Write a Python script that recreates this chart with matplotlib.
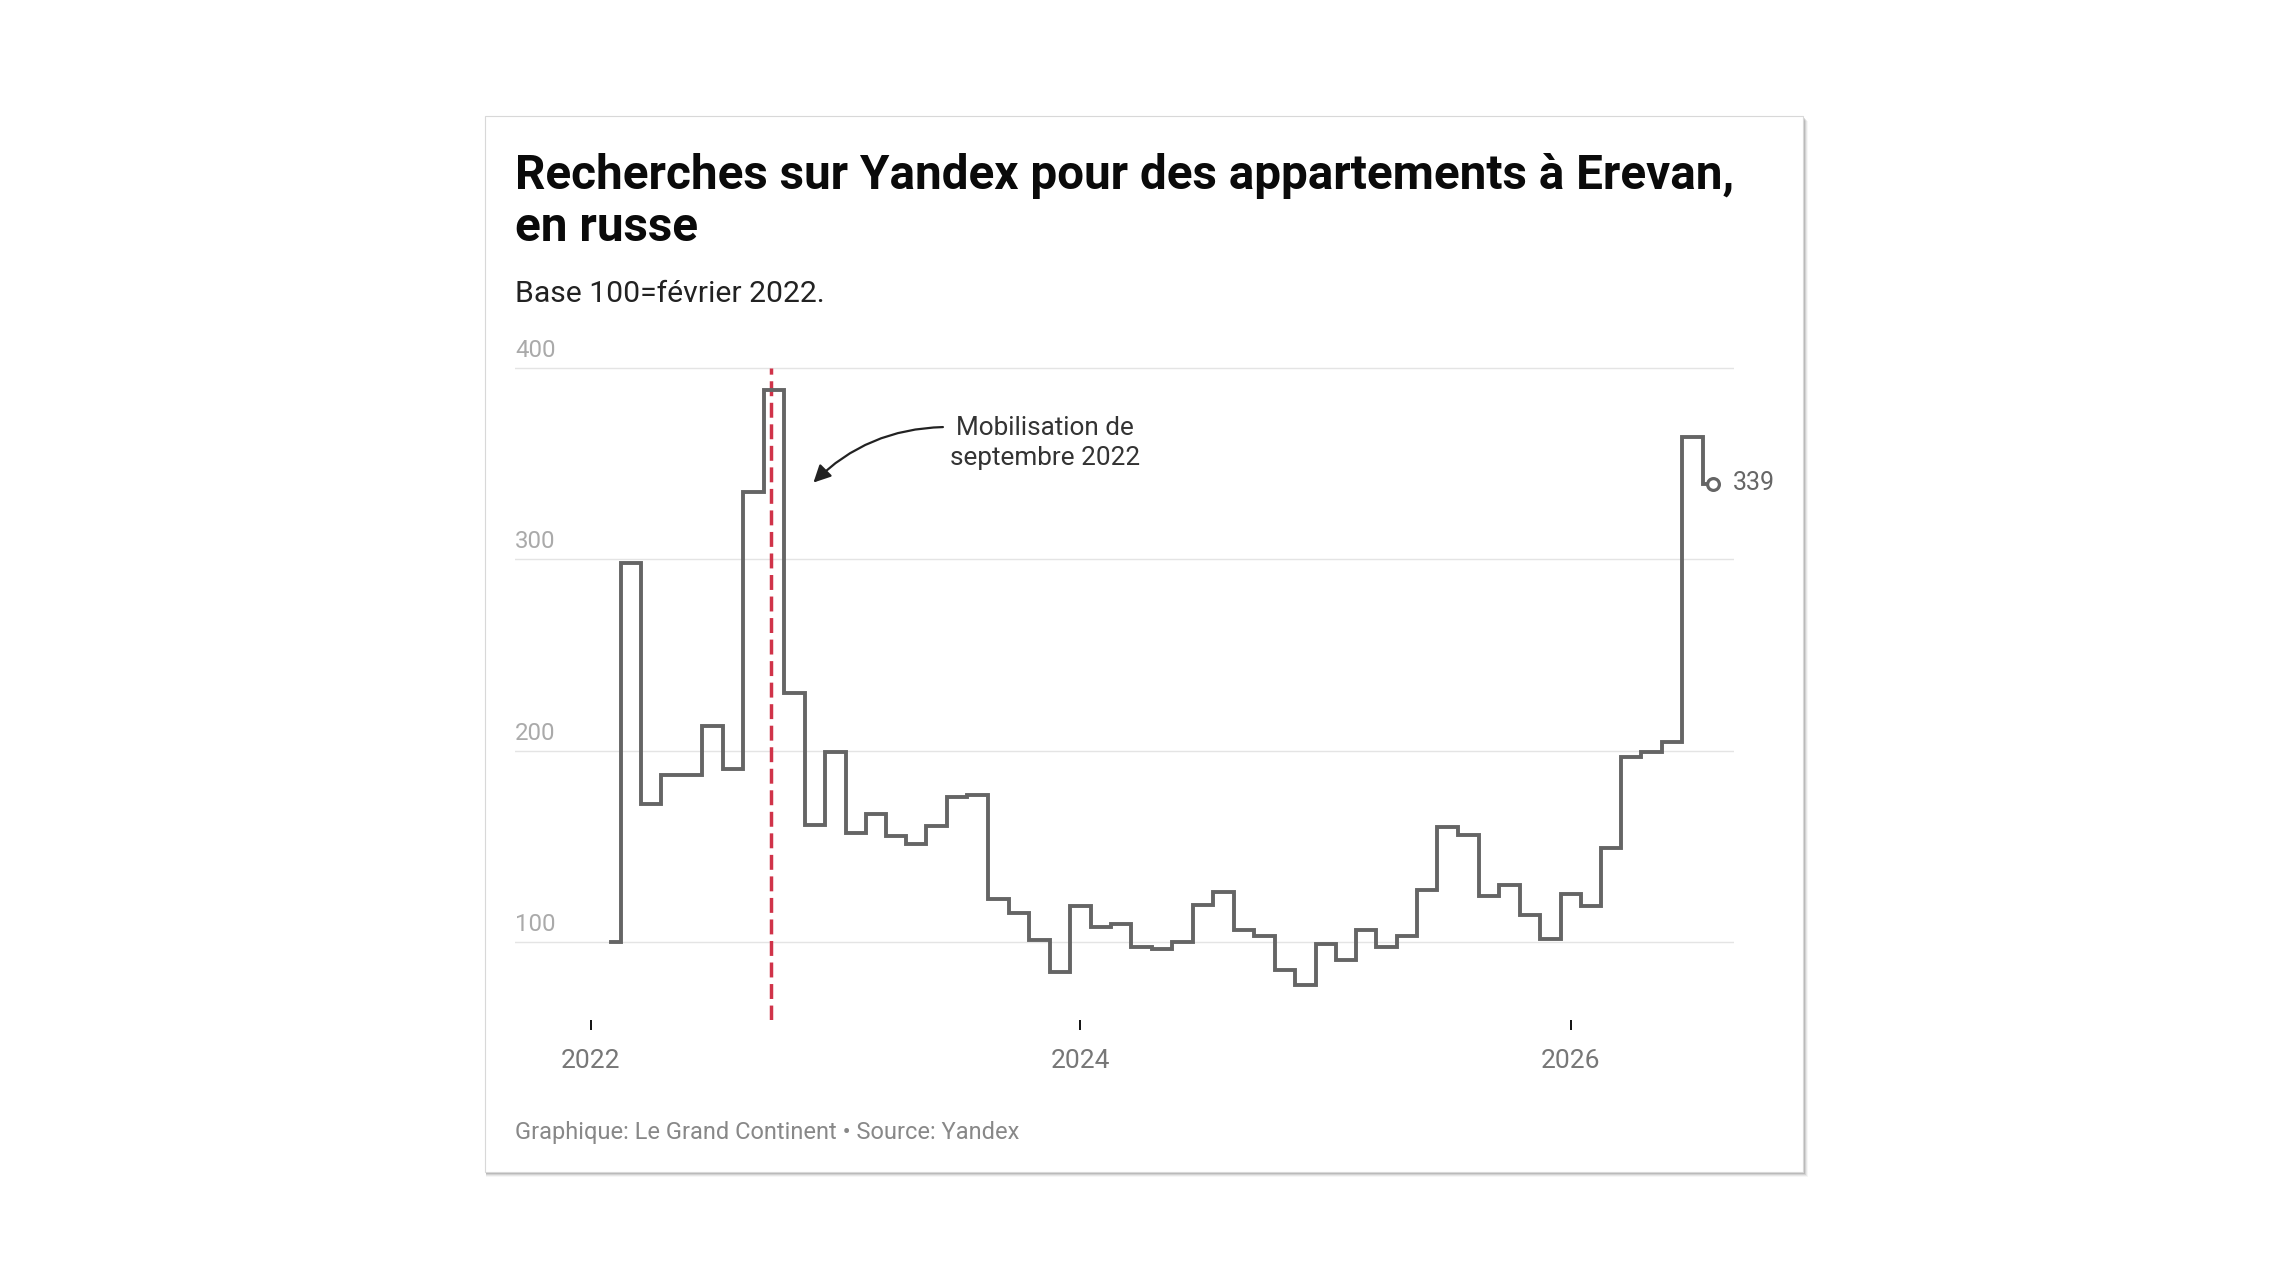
import matplotlib
matplotlib.use("Agg")
import matplotlib.pyplot as plt
import matplotlib.dates as mdates
from matplotlib.patches import Rectangle
import pandas as pd

plt.rcParams['font.family'] = ['Roboto', 'DejaVu Sans']

# monthly index, base 100 = Feb 2022
months = pd.date_range('2022-02-01', periods=55, freq='MS')
values = [
    100, 298, 172, 187.5, 187, 213, 190.5, 335, 388.5, 230, 161,             # 2022
    199, 157, 167, 155.5, 151, 160.5, 175.5, 177, 122.5, 115, 101, 84.5,     # 2023
    119, 108, 109.5, 97.5, 96.5, 100, 119.5, 126, 106.5, 103, 85.5, 77.5,    # 2024
    99, 90.5, 106.5, 97.5, 103, 127, 160.3, 156, 124, 130, 114, 101.5,       # 2025
    125, 119, 149, 196.5, 199.5, 204.5, 364, 339,                            # 2026
]
yticks = [100, 200, 300, 400]
xtick_years = [2022, 2024, 2026]
mobilisation = pd.Timestamp('2022-09-27')

title_lines = ["Recherches sur Yandex pour des appartements à Erevan,", "en russe"]
subtitle = "Base 100=février 2022."
footer = "Graphique: Le Grand Continent • Source: Yandex"
note_lines = ["Mobilisation de", "septembre 2022"]

W, H = 2290, 1288
fig = plt.figure(figsize=(W / 100, H / 100), dpi=100)
fig.patch.set_facecolor('white')


def fx(px):
    return px / W


def fy(py):
    return 1 - py / H


# card with soft shadow
cl, ct, cr, cb = 485, 116, 1803, 1172
for off, a in [(5, 0.05), (4, 0.09), (3, 0.14), (2, 0.2), (1, 0.28)]:
    fig.add_artist(Rectangle((fx(cl + 1), fy(cb + off)), fx(cr - cl - 1 + off), (cb - ct) / H,
                             transform=fig.transFigure, facecolor='#555555', edgecolor='none',
                             alpha=a, zorder=-3))
fig.add_artist(Rectangle((fx(cl), fy(cb)), fx(cr - cl), (cb - ct) / H, transform=fig.transFigure,
                         facecolor='white', edgecolor='#d8d8d8', lw=0.8, zorder=-2))

# plot area
left, right, top, bottom = 515, 1734, 363.9, 1020
ax = fig.add_axes([fx(left), fy(bottom), fx(right - left), (bottom - top) / H])
ax.set_zorder(2)
ax.patch.set_alpha(0)

x0 = mdates.date2num(pd.Timestamp('2022-01-01'))
x1 = mdates.date2num(pd.Timestamp('2026-01-01'))
ax.set_xlim(x0 - 112.8, x1 + 243)
ax.set_ylim(59.25, 402)

for v in yticks:
    ax.axhline(v, color='#e4e4e4', lw=1.0, zorder=1)
    ax.annotate(str(v), xy=(0, v), xycoords=('axes fraction', 'data'),
                xytext=(0, 7.7), textcoords='offset points',
                ha='left', va='baseline', fontsize=17.3, color='#aaaaaa')
ax.set_yticks([])

ax.vlines(mobilisation, ax.get_ylim()[0], 400, colors='#d03349', lw=2.5,
          linestyles=(0, (4.3, 1.9)), zorder=2)

ax.plot(months, values, drawstyle='steps-mid', color='#656565', lw=2.8, zorder=3,
        solid_joinstyle='miter')
ax.plot(months[-1:], values[-1:], 'o', ms=8.5, mfc='white', mec='#656565', mew=2.3, zorder=4)
ax.annotate(f"{values[-1]:.0f}", xy=(months[-1], values[-1]), xytext=(14.2, -4.1),
            textcoords='offset points', ha='left', va='baseline', fontsize=18,
            color='#666666', annotation_clip=False)

ax.set_xticks([pd.Timestamp(f'{y}-01-01') for y in xtick_years])
ax.set_xticklabels([str(y) for y in xtick_years])
ax.tick_params(axis='x', length=7.2, width=1.4, color='#111111', pad=14,
               labelsize=19, labelcolor='#777777')
for s in ax.spines.values():
    s.set_visible(False)

# annotation
ax.annotate('', xy=(pd.Timestamp('2022-11-29'), 340), xytext=(pd.Timestamp('2023-06-10'), 369),
            arrowprops=dict(arrowstyle='-|>', color='#222222', lw=1.6, mutation_scale=26,
                            connectionstyle='arc3,rad=0.2', shrinkA=0, shrinkB=0))
ax.text(pd.Timestamp('2023-11-09'), 364.9, note_lines[0], ha='center', va='baseline',
        fontsize=18.8, color='#333333')
ax.text(pd.Timestamp('2023-11-09'), 349.2, note_lines[1], ha='center', va='baseline',
        fontsize=18.8, color='#333333')

# titles and footer
fig.text(fx(515), fy(189), title_lines[0], ha='left', va='baseline', fontsize=34.3,
         fontweight='bold', color='#0a0a0a')
fig.text(fx(515), fy(241), title_lines[1], ha='left', va='baseline', fontsize=34.3,
         fontweight='bold', color='#0a0a0a')
fig.text(fx(515), fy(302), subtitle, ha='left', va='baseline', fontsize=21.7, color='#222222')
fig.text(fx(515), fy(1139), footer, ha='left', va='baseline', fontsize=17, color='#888888')

fig.savefig('out.png', dpi=100)
